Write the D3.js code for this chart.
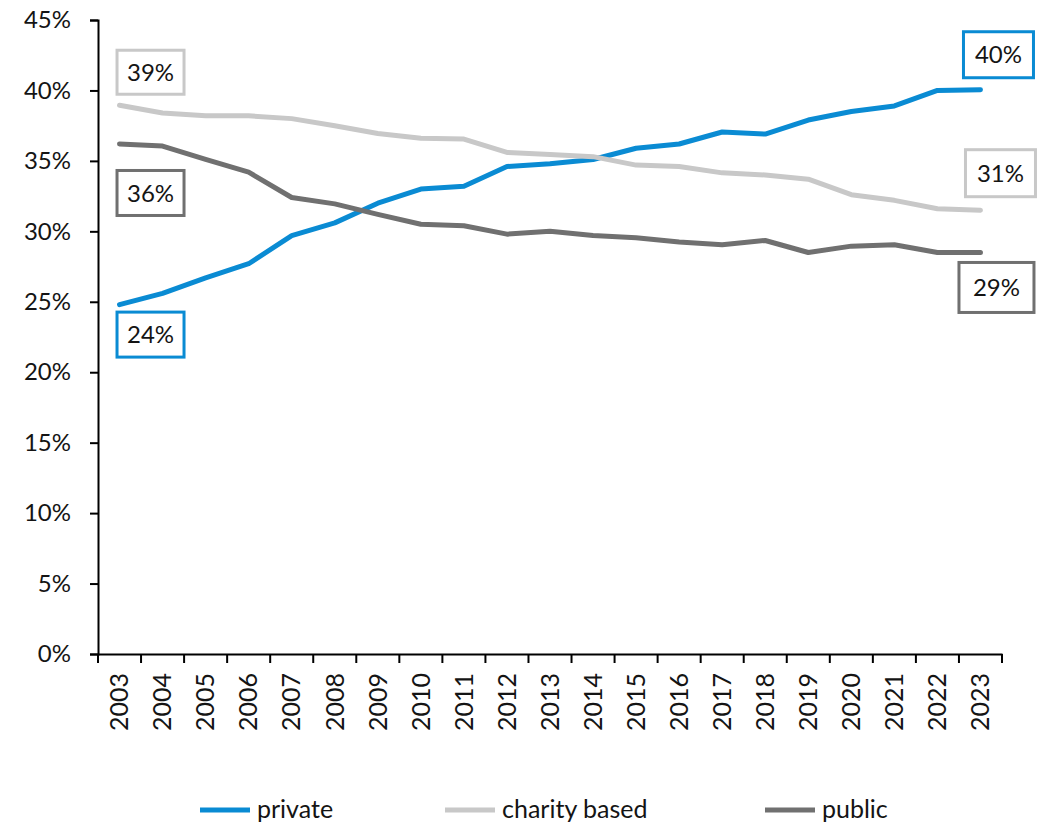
<!DOCTYPE html>
<html><head><meta charset="utf-8">
<script src="https://cdn.jsdelivr.net/npm/d3@7"></script>
<style>
html,body{margin:0;padding:0;background:#fff;}
text{font-family:Lato,"Open Sans",sans-serif;fill:#141414;}
</style></head>
<body>
<svg id="chart" width="1042" height="824"></svg>
<script>
const years = ["2003","2004","2005","2006","2007","2008","2009","2010","2011","2012","2013","2014","2015","2016","2017","2018","2019","2020","2021","2022","2023"];
const privateVals = [24.8,25.6,26.7,27.7,29.7,30.6,32.0,33.0,33.2,34.6,34.8,35.1,35.9,36.2,37.05,36.9,37.9,38.5,38.9,40.0,40.05];
const charityVals = [38.95,38.4,38.2,38.2,38.0,37.5,36.95,36.6,36.55,35.6,35.45,35.3,34.7,34.6,34.15,34.0,33.7,32.6,32.2,31.6,31.5];
const publicVals  = [36.2,36.05,35.1,34.2,32.4,31.95,31.2,30.5,30.4,29.8,30.0,29.7,29.55,29.25,29.05,29.35,28.5,28.95,29.05,28.5,28.5];
const seriesNames = ["private","charity based","public"];
const yTicks = [0,5,10,15,20,25,30,35,40,45];
const endLabels = [
  {series:0, idx:0,  text:"24%"},
  {series:1, idx:0,  text:"39%"},
  {series:2, idx:0,  text:"36%"},
  {series:0, idx:20, text:"40%"},
  {series:1, idx:20, text:"31%"},
  {series:2, idx:20, text:"29%"}
];

const colors = ["#0a8bd3","#c8c8c8","#707070"];
const seriesVals = [privateVals, charityVals, publicVals];
// annotation box layout (offsets from point)
const boxLayout = [
  {dx:31, dy:30, w:67, h:45},
  {dx:31, dy:-33, w:67, h:44},
  {dx:31, dy:49, w:67, h:45},
  {dx:18, dy:-35, w:70, h:46},
  {dx:20, dy:-37, w:70, h:47},
  {dx:16, dy:35, w:75, h:50}
];

const svg = d3.select("#chart");
const mLeft = 98, mRight = 1002, mTop = 20, mBottom = 654;

const x = d3.scaleBand().domain(years).range([mLeft, mRight]).padding(0);
const y = d3.scaleLinear().domain([0,45]).range([mBottom, mTop]);
const cx = d => x(d) + x.bandwidth()/2;

// Y axis
const yAxis = svg.append("g").attr("transform",`translate(${mLeft},0)`)
  .call(d3.axisLeft(y).tickValues(yTicks).tickFormat(d=>d+"%").tickSize(8).tickPadding(19));
yAxis.select(".domain").attr("stroke","#000").attr("stroke-width",2);
yAxis.selectAll(".tick line").attr("stroke","#000").attr("stroke-width",2);
yAxis.selectAll(".tick text").style("font-size","24px").attr("fill","#141414");

// X axis
const xAxis = svg.append("g").attr("transform",`translate(0,${mBottom})`)
  .call(d3.axisBottom(x).tickSize(0).tickSizeOuter(0));
xAxis.select(".domain").attr("stroke","#000").attr("stroke-width",2);
xAxis.selectAll(".tick line").remove();
xAxis.selectAll(".tick text")
  .style("font-size","25px").attr("fill","#141414")
  .attr("transform","rotate(-90)")
  .attr("x",-19).attr("y",0).attr("dy","0.35em")
  .attr("text-anchor","end");
// band boundary ticks
const boundaries = years.map(d=>x(d)).concat([mRight]);
xAxis.selectAll("line.bt").data(boundaries).enter().append("line")
  .attr("class","bt").attr("x1",d=>d).attr("x2",d=>d).attr("y1",0).attr("y2",9)
  .attr("stroke","#000").attr("stroke-width",2);

// lines
const line = d3.line().x((d,i)=>cx(years[i])).y(d=>y(d));
seriesVals.forEach((vals,si)=>{
  svg.append("path").datum(vals).attr("d",line)
    .attr("fill","none").attr("stroke",colors[si]).attr("stroke-width",5)
    .attr("stroke-linejoin","round").attr("stroke-linecap","round");
});

// labels
endLabels.forEach((l,i)=>{
  const b = boxLayout[i];
  const px = cx(years[l.idx]), py = y(seriesVals[l.series][l.idx]);
  const bx = px + b.dx, by = py + b.dy;
  const g = svg.append("g");
  g.append("rect").attr("x",bx-b.w/2).attr("y",by-b.h/2).attr("width",b.w).attr("height",b.h)
    .attr("fill","#fff").attr("stroke",colors[l.series]).attr("stroke-width",3);
  g.append("text").attr("x",bx).attr("y",by).attr("dy","0.36em").attr("text-anchor","middle")
    .style("font-size","24px").text(l.text);
});

// legend
const legendX = [200, 445, 765];
const lg = svg.append("g");
seriesNames.forEach((n,i)=>{
  lg.append("line").attr("x1",legendX[i]).attr("x2",legendX[i]+50).attr("y1",810).attr("y2",810)
    .attr("stroke",colors[i]).attr("stroke-width",5);
  lg.append("text").attr("x",legendX[i]+57).attr("y",810).attr("dy","0.33em")
    .style("font-size","25px").text(n);
});
</script>
</body></html>
